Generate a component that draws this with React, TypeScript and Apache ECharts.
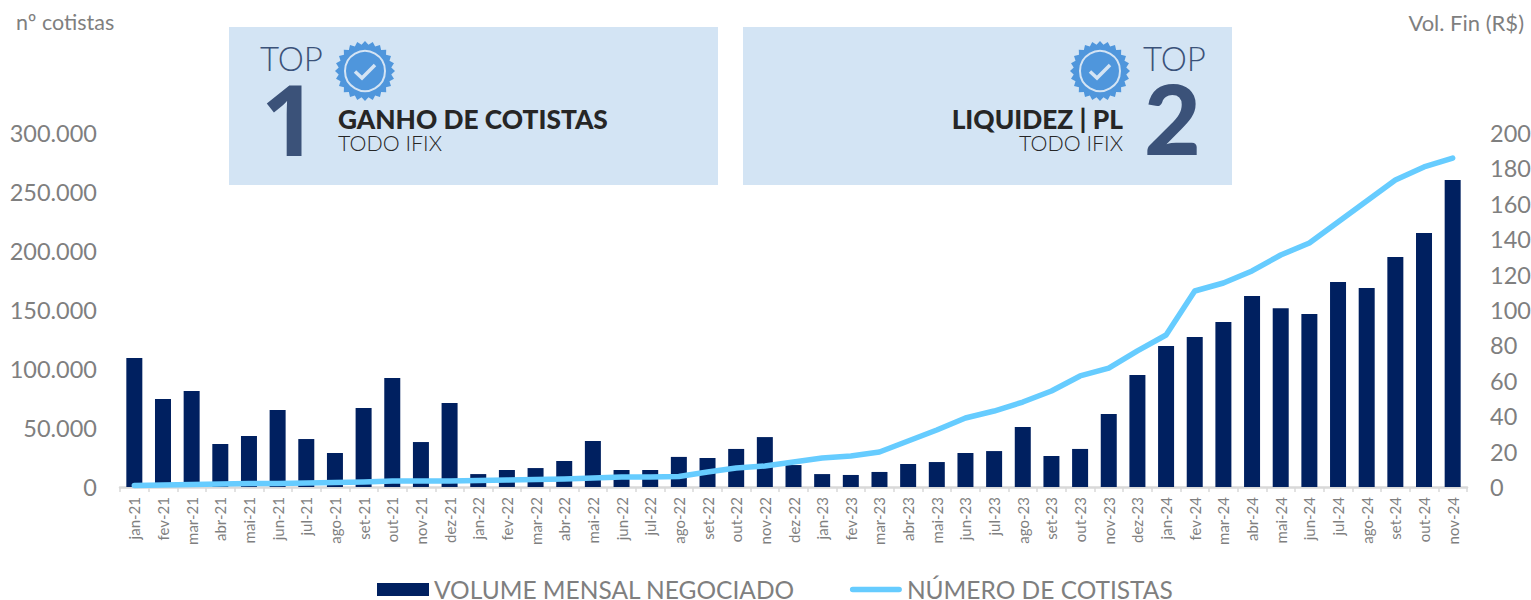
import React, { useEffect, useRef } from "react";
import * as echarts from "echarts";

const categories = [
  "jan-21","fev-21","mar-21","abr-21","mai-21","jun-21","jul-21","ago-21","set-21","out-21","nov-21","dez-21",
  "jan-22","fev-22","mar-22","abr-22","mai-22","jun-22","jul-22","ago-22","set-22","out-22","nov-22","dez-22",
  "jan-23","fev-23","mar-23","abr-23","mai-23","jun-23","jul-23","ago-23","set-23","out-23","nov-23","dez-23",
  "jan-24","fev-24","mar-24","abr-24","mai-24","jun-24","jul-24","ago-24","set-24","out-24","nov-24",
];
const volumeMensal = [
  72.9,49.7,54.2,24.3,28.8,43.5,27.1,19.2,44.6,61.6,25.4,47.5,
  7.3,9.6,10.7,14.7,26,9.6,9.6,17,16.4,21.5,28.2,12.4,
  7.3,6.8,8.5,13,14.1,19.2,20.3,33.9,17.5,21.5,41.2,63.3,
  79.7,84.7,93.2,107.9,101,97.7,115.8,112.4,130,143.5,173.4,
];
const numeroCotistas = [
  1300,1700,2100,2500,3000,3000,3400,3800,4200,5100,5100,5100,
  5500,5900,6400,6800,7600,8500,8500,8900,12700,16100,17800,21200,
  24600,26300,29700,39000,48300,58500,64400,72000,81400,94100,100800,115300,
  128800,166100,172900,183100,196600,206800,224600,242400,260200,271200,278800,
];

const FONT = "Lato";
const GREY = "#7f7f7f";
const NAVY = "#3b5279";
const INK = "#262626";
const LINE_ICON = "path://M0 0 L0 0 Z M55 14 L55 14 Z M3 4 H52 A3 3 0 0 1 52 10 H3 A3 3 0 0 1 3 4 Z";

function sealPath(): string {
  const teeth = 24;
  const pts: string[] = [];
  for (let i = 0; i < teeth * 2; i++) {
    const r = i % 2 === 0 ? 30 : 26.5;
    const a = (Math.PI * i) / teeth;
    pts.push(`${i === 0 ? "M" : "L"}${(r * Math.cos(a)).toFixed(2)} ${(r * Math.sin(a)).toFixed(2)}`);
  }
  return pts.join(" ") + " Z";
}
echarts.graphic.registerShape("seal", echarts.graphic.extendPath(sealPath() as any, {}) as any);

function seal(cx: number, cy: number) {
  return [
    { type: "seal", x: cx, y: cy, z: 6, style: { fill: "#4f96dc" } },
    { type: "circle", z: 7, shape: { cx, cy, r: 20 }, style: { fill: "#4f96dc", stroke: "#d4e4f4", lineWidth: 2 } },
    {
      type: "polyline",
      z: 8,
      shape: { points: [[cx - 10, cy + 0.5], [cx - 3, cy + 7], [cx + 10, cy - 6]] },
      style: { fill: "none", stroke: "#d4e4f4", lineWidth: 3.5 },
    },
  ];
}

function txt(x: number, y: number, text: string, size: number, weight: any, fill: string, align = "left", font = FONT, lineHeight?: number) {
  return {
    type: "text",
    x,
    y,
    z: 6,
    style: { text, fontFamily: font, fontSize: size, fontWeight: weight, fill, textAlign: align, textVerticalAlign: "middle", lineHeight },
  };
}

export default function App() {
  const ref = useRef<HTMLDivElement>(null);
  useEffect(() => {
    const chart = echarts.init(ref.current!, undefined, { renderer: "svg" });
    chart.setOption({
      animation: false,
      backgroundColor: "#ffffff",
      grid: { left: 120, right: 64, top: 133, bottom: 113, outerBoundsMode: "none" },
      legend: {
        left: 377,
        top: 577,
        padding: 0,
        itemGap: 55,
        itemWidth: 52,
        itemHeight: 13,
        symbolKeepAspect: false,
        textStyle: { fontFamily: FONT, fontSize: 24.5, color: GREY },
        data: [
          { name: "VOLUME MENSAL NEGOCIADO", icon: "rect" },
          { name: "NÚMERO DE COTISTAS", icon: LINE_ICON },
        ],
      },
      xAxis: {
        type: "category",
        data: categories,
        boundaryGap: true,
        axisLine: { lineStyle: { color: "#d9d9d9", width: 2.5 } },
        axisTick: { show: true, alignWithLabel: false, length: 5, lineStyle: { color: "#d9d9d9", width: 1.5 } },
        axisLabel: { rotate: 90, interval: 0, fontFamily: FONT, fontSize: 15, color: GREY, margin: 10 },
      },
      yAxis: [
        {
          type: "value",
          min: 0,
          max: 300000,
          interval: 50000,
          splitLine: { show: false },
          axisLine: { show: false },
          axisTick: { show: false },
          axisLabel: {
            fontFamily: FONT,
            fontSize: 23.5,
            color: GREY,
            margin: 23,
            formatter: (v: number) => String(v).replace(/\B(?=(\d{3})+$)/g, "."),
          },
        },
        {
          type: "value",
          min: 0,
          max: 200,
          interval: 20,
          position: "right",
          splitLine: { show: false },
          axisLine: { show: false },
          axisTick: { show: false },
          axisLabel: { fontFamily: FONT, fontSize: 23.5, color: GREY, margin: 23 },
        },
      ],
      series: [
        {
          name: "VOLUME MENSAL NEGOCIADO",
          type: "bar",
          yAxisIndex: 1,
          data: volumeMensal,
          barWidth: 16,
          itemStyle: { color: "#002060" },
          z: 2,
        },
        {
          name: "NÚMERO DE COTISTAS",
          type: "line",
          yAxisIndex: 0,
          data: numeroCotistas,
          showSymbol: false,
          symbol: "none",
          smooth: false,
          lineStyle: { color: "#66ccff", width: 5.5, cap: "round", join: "round" },
          itemStyle: { color: "#66ccff" },
          z: 3,
        },
      ],
      graphic: {
        elements: [
          txt(16, 22, "nº cotistas", 21.5, 400, GREY),
          txt(1524, 22, "Vol. Fin (R$)", 22, 400, GREY, "right"),
          { type: "rect", shape: { x: 229, y: 27, width: 489, height: 158 }, style: { fill: "#d3e4f4" }, z: 5 },
          { type: "rect", shape: { x: 743, y: 27, width: 489, height: 158 }, style: { fill: "#d3e4f4" }, z: 5 },
          txt(260, 58, "TOP", 33, 300, NAVY),
          txt(261, 118, "1", 98, 700, NAVY, "left", "Open Sans", 72),
          ...seal(365, 71),
          txt(338, 119, "GANHO DE COTISTAS", 26.3, 900, INK, "left", FONT, 22),
          txt(338, 143, "TODO IFIX", 21.4, 300, INK, "left", FONT, 20),
          txt(1143, 58, "TOP", 33, 300, NAVY),
          txt(1144, 117, "2", 98, 900, NAVY, "left", FONT, 72),
          ...seal(1100, 71),
          txt(1123, 119, "LIQUIDEZ | PL", 26.3, 900, INK, "right", FONT, 22),
          txt(1123, 143, "TODO IFIX", 21.4, 300, INK, "right", FONT, 20),
        ],
      },
    } as any);
    return () => chart.dispose();
  }, []);
  return <div ref={ref} style={{ position: "absolute", left: 0, top: 0, width: 1531, height: 600 }} />;
}
